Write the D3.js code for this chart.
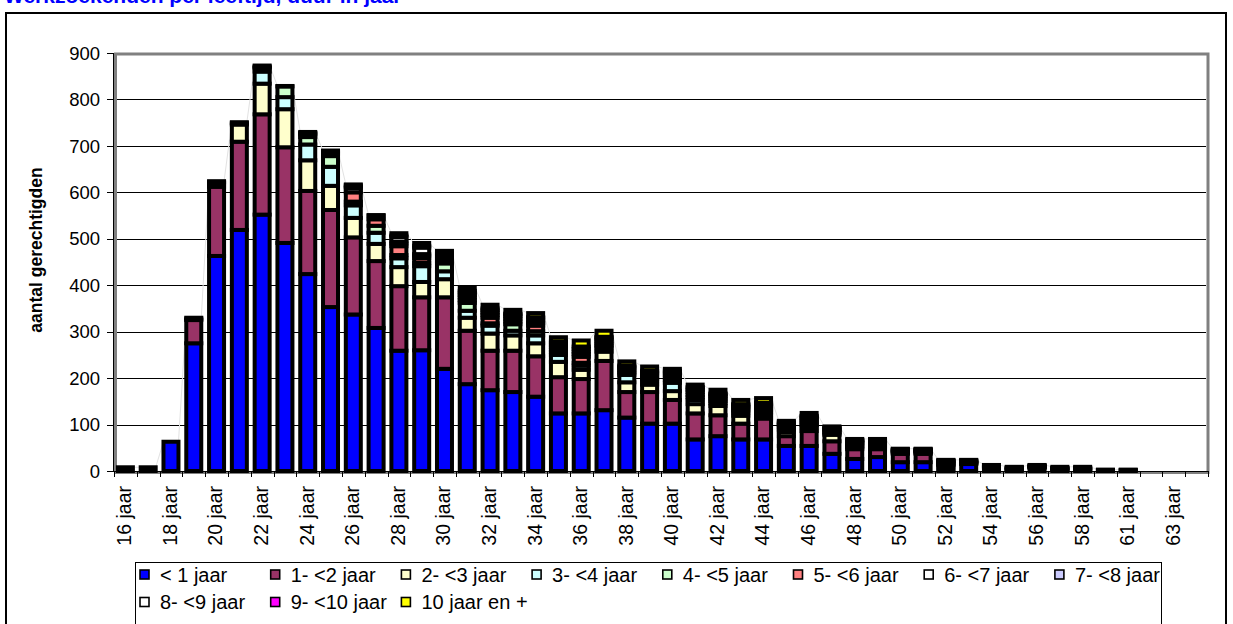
<!DOCTYPE html>
<html>
<head>
<meta charset="utf-8">
<script src="https://cdn.jsdelivr.net/npm/d3@7"></script>
<style>
  body { margin: 0; background: #fff; }
  text { font-family: "Liberation Sans", Arial, sans-serif; }
</style>
</head>
<body>
<script>
// categories (age)
var categories = ["16 jaar","17 jaar","18 jaar","19 jaar","20 jaar","21 jaar","22 jaar","23 jaar","24 jaar","25 jaar",
  "26 jaar","27 jaar","28 jaar","29 jaar","30 jaar","31 jaar","32 jaar","33 jaar","34 jaar","35 jaar",
  "36 jaar","37 jaar","38 jaar","39 jaar","40 jaar","41 jaar","42 jaar","43 jaar","44 jaar","45 jaar",
  "46 jaar","47 jaar","48 jaar","49 jaar","50 jaar","51 jaar","52 jaar","53 jaar","54 jaar","55 jaar",
  "56 jaar","57 jaar","58 jaar","60 jaar","61 jaar","62 jaar","63 jaar","64 jaar"];

var seriesNames = ["< 1 jaar","1- <2 jaar","2- <3 jaar","3- <4 jaar","4- <5 jaar","5- <6 jaar",
  "6- <7 jaar","7- <8 jaar","8- <9 jaar","9- <10 jaar","10 jaar en +"];
var seriesColors = ["#0000ff","#993366","#ffffcc","#ccffff","#ccffcc","#ff8080",
  "#ffffff","#ccccff","#ffffff","#ff00ff","#ffff00"];

// values per series
var lt1 = [8,8,63,275,463,519,552,491,424,353, 337,308,259,260,220,187,174,170,160,124,
  124,131,115,102,102,68,75,68,68,54, 54,37,26,30,19,19,2,15,7,0, 7,0,0, 0,0,0,0,0];
var y1to2 = [0,0,0,50,149,190,216,206,179,209, 166,144,139,114,154,115,85,89,87,78,
  74,106,55,68,51,56,45,34,45,21, 32,27,21,17,18,18,8,1,1,2, 1,2,2, 1,1,0,0,0];
var y2to3 = [0,0,0,3,8,37,66,82,66,52, 42,37,41,33,39,28,37,33,28,33,
  20,20,21,16,19,20,20,17,8,9, 8,14,4,4,2,2,2,1,1,1, 1,2,2, 0,0,0,0,0];
var y3to4 = [0,0,0,2,2,3,26,26,34,41, 27,24,19,34,17,15,17,10,17,15,
  9,8,16,8,18,9,6,7,5,5, 5,3,3,3,2,2,2,1,1,1, 1,1,1, 0,0,0,0,0];
var y4to5 = [0,0,0,0,2,2,8,23,16,23, 8,15,7,7,17,17,5,14,9,6,
  6,5,5,5,6,6,5,4,4,4, 4,3,3,3,2,2,2,1,1,1, 1,1,1, 0,0,0,0,0];
var y5to6 = [0,0,0,0,0,0,1,1,6,4, 20,14,19,10,5,6,12,6,12,5,
  13,4,4,4,5,5,4,4,4,3, 4,3,3,3,1,1,2,1,0,1, 0,0,0, 0,0,0,0,0];
var y6to7 = [0,0,0,0,0,0,2,0,2,3, 9,8,6,6,6,6,6,6,6,6,
  6,5,5,5,5,6,4,3,4,3, 4,2,2,2,1,1,2,1,1,1, 1,1,1, 1,1,0,0,0];
var y7to8 = [0,0,0,0,0,0,2,0,1,2, 3,1,4,3,4,5,5,5,3,4,
  5,4,3,3,4,4,3,2,3,2, 3,2,2,2,1,1,1,1,0,0, 0,0,0, 0,0,0,0,0];
var y8to9 = [0,0,0,0,0,0,0,0,2,2, 3,0,10,14,5,5,5,4,8,5,
  6,4,3,3,4,4,3,3,4,3, 3,2,2,2,1,1,1,1,0,1, 0,0,0, 0,0,0,0,0];
var y9to10 = [0,0,0,0,0,0,0,0,0,1, 2,0,3,4,2,4,4,2,1,3,
  5,2,0,2,2,3,2,2,2,1, 2,1,1,1,0,0,1,0,0,0, 0,0,0, 0,0,0,0,0];
var y10plus = [0,0,0,0,0,0,0,0,0,0, 0,0,5,6,5,8,8,8,9,9,
  13,13,9,9,4,5,8,9,10,3, 6,2,2,2,1,1,1,1,1,1, 1,2,2, 1,1,0,0,0];

var yTicks = [0,100,200,300,400,500,600,700,800,900];

var seriesValues = [lt1,y1to2,y2to3,y3to4,y4to5,y5to6,y6to7,y7to8,y8to9,y9to10,y10plus];

// rows for the stack
var rows = categories.map(function(c, i) {
  var r = {cat: c};
  seriesNames.forEach(function(s, k) { r[s] = seriesValues[k][i]; });
  return r;
});

var W = 1233, H = 624;
var plot = {left: 114, right: 1208, top: 53, bottom: 471};
var sw = 4; // thick segment border

var svg = d3.select("body").append("svg")
    .attr("width", W)
    .attr("height", H);

svg.append("rect").attr("width", W).attr("height", H).attr("fill", "#fff");

// title (cut off at the top of the picture)
svg.append("text")
    .attr("x", 4).attr("y", 3)
    .attr("fill", "#0000ff")
    .attr("font-weight", "bold")
    .attr("font-size", "21px")
    .text("Werkzoekenden per leeftijd, duur in jaar");

// outer frame
svg.append("rect")
    .attr("x", 6).attr("y", 13)
    .attr("width", 1220).attr("height", 700)
    .attr("fill", "none")
    .attr("stroke", "#000")
    .attr("stroke-width", 2);

var x = d3.scaleBand()
    .domain(categories)
    .range([plot.left, plot.right])
    .paddingInner(0.342)
    .paddingOuter(0.171);

var y = d3.scaleLinear()
    .domain([0, 900])
    .range([plot.bottom, plot.top]);

// gridlines
svg.append("g").selectAll("line")
    .data(yTicks.filter(function(d) { return d > 0 && d < 900; }))
  .enter().append("line")
    .attr("x1", plot.left).attr("x2", plot.right - 2)
    .attr("y1", function(d) { return Math.round(y(d)) + 0.5; })
    .attr("y2", function(d) { return Math.round(y(d)) + 0.5; })
    .attr("stroke", "#000")
    .attr("stroke-width", 1);

// plot area border (gray)
svg.append("rect")
    .attr("x", plot.left + 1.5).attr("y", plot.top + 1)
    .attr("width", plot.right - plot.left - 1.5).attr("height", plot.bottom - plot.top + 0.5)
    .attr("fill", "none")
    .attr("stroke", "#808080")
    .attr("stroke-width", 3);

var stacked = d3.stack().keys(seriesNames)(rows);
var bw = x.bandwidth();

// faint series line over the bar tops
var topLayer = stacked[stacked.length - 1];
var pts = [[x(categories[0]), y(0)]];
topLayer.forEach(function(p, i) {
  if (p[1] <= 0) return;
  pts.push([x(categories[i]), y(p[1])]);
  pts.push([x(categories[i]) + bw, y(p[1])]);
});
svg.append("path")
    .attr("d", d3.line()(pts))
    .attr("fill", "none")
    .attr("stroke", "#e2e2e2")
    .attr("stroke-width", 1);

// stacked bars
svg.append("g").selectAll("g")
    .data(stacked)
  .enter().append("g")
    .attr("fill", function(d, k) { return seriesColors[k]; })
  .selectAll("rect")
    .data(function(d) { return d.filter(function(p) { return p[1] - p[0] > 0; }); })
  .enter().append("rect")
    .attr("x", function(d) { return x(d.data.cat); })
    .attr("width", bw)
    .attr("y", function(d) { return y(d[1]); })
    .attr("height", function(d) { return y(d[0]) - y(d[1]); })
    .attr("stroke", "#000")
    .attr("stroke-width", sw);

// y axis
var yAxis = svg.append("g");
yAxis.append("line")
    .attr("x1", plot.left - 0.5).attr("x2", plot.left - 0.5)
    .attr("y1", plot.top).attr("y2", plot.bottom)
    .attr("stroke", "#000");
yAxis.selectAll(".tick")
    .data(yTicks)
  .enter().append("line")
    .attr("x1", plot.left - 7).attr("x2", plot.left)
    .attr("y1", function(d) { return Math.round(y(d)) + 0.5; })
    .attr("y2", function(d) { return Math.round(y(d)) + 0.5; })
    .attr("stroke", "#000");
yAxis.selectAll("text")
    .data(yTicks)
  .enter().append("text")
    .attr("x", 100)
    .attr("y", function(d) { return y(d); })
    .attr("dy", "0.36em")
    .attr("text-anchor", "end")
    .attr("font-size", "18.5px")
    .attr("fill", "#000")
    .text(function(d) { return d; });

svg.append("text")
    .attr("transform", "translate(42,250) rotate(-90)")
    .attr("text-anchor", "middle")
    .attr("font-size", "17.5px")
    .attr("font-weight", "bold")
    .text("aantal gerechtigden");

// x axis
var xAxis = svg.append("g");
xAxis.append("line")
    .attr("x1", plot.left).attr("x2", plot.right)
    .attr("y1", plot.bottom + 0.5).attr("y2", plot.bottom + 0.5)
    .attr("stroke", "#000");
var step = x.step();
var bounds = categories.map(function(c) { return x(c) - step * x.paddingInner() / 2; });
bounds.push(plot.right);
xAxis.selectAll(".tick")
    .data(bounds)
  .enter().append("line")
    .attr("x1", function(d) { return Math.round(d) + 0.5; })
    .attr("x2", function(d) { return Math.round(d) + 0.5; })
    .attr("y1", plot.bottom).attr("y2", plot.bottom + 6)
    .attr("stroke", "#000");
xAxis.selectAll("text")
    .data(categories.filter(function(c, i) { return i % 2 === 0; }))
  .enter().append("text")
    .attr("transform", function(d) {
      return "translate(" + (x(d) + bw / 2) + "," + (plot.bottom + 15) + ") rotate(-90)";
    })
    .attr("dy", "0.3em")
    .attr("text-anchor", "end")
    .attr("font-size", "19.5px")
    .text(function(d) { return d; });

// legend
var leg = svg.append("g");
leg.append("rect")
    .attr("x", 135.5).attr("y", 562.5)
    .attr("width", 1026).attr("height", 100)
    .attr("fill", "#fff")
    .attr("stroke", "#000")
    .attr("stroke-width", 1);
var legItem = leg.selectAll(".item")
    .data(seriesNames)
  .enter().append("g")
    .attr("transform", function(d, i) {
      var col = i % 8, row = Math.floor(i / 8);
      return "translate(" + (140 + col * 130.7) + "," + (574.5 + row * 27.5) + ")";
    });
legItem.append("rect")
    .attr("x", 0).attr("y", -4.5)
    .attr("width", 9).attr("height", 9)
    .attr("fill", function(d, i) { return seriesColors[i]; })
    .attr("stroke", "#000")
    .attr("stroke-width", 1.6);
legItem.append("text")
    .attr("x", 20)
    .attr("dy", "0.36em")
    .attr("font-size", "20px")
    .text(function(d) { return d; });
</script>
</body>
</html>
